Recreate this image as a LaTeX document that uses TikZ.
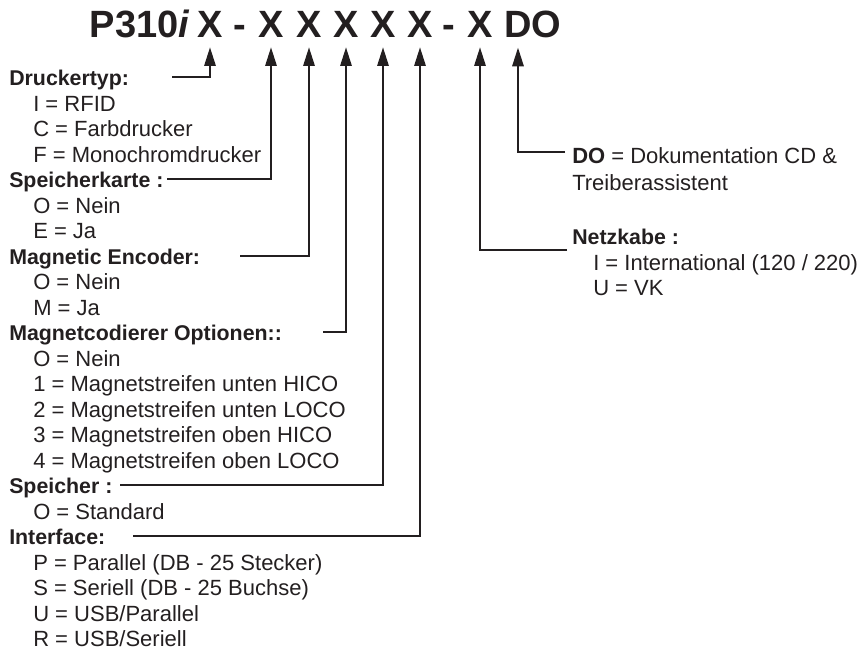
\documentclass[tikz,border=0pt]{standalone}
\usepackage{fontspec}
\setmainfont{Liberation Sans}
\usetikzlibrary{arrows.meta,positioning}
\definecolor{ink}{HTML}{231F20}
\tikzset{
  ttl/.style={font=\fontsize{28.5}{34}\selectfont\bfseries, text=ink, inner xsep=0pt, inner ysep=7.5pt, anchor=base},
  head/.style={font=\fontsize{16}{19}\selectfont\bfseries, text=ink, inner sep=0pt, text height=12.8pt, text depth=0pt, anchor=west},
  item/.style={font=\fontsize{16.5}{19}\selectfont, text=ink, inner sep=0pt, text height=12.8pt, text depth=0pt, anchor=west},
  arr/.style={-{Triangle[length=14pt,width=8.5pt]}, line width=1.5pt, draw=ink},
}

\begin{document}
\begin{tikzpicture}[x=0.75pt,y=-0.75pt]
\useasboundingbox (0,0) rectangle (865,651);

% model code
\node[ttl, anchor=base east] (model) at (190,37) {P310\textit{i}};
\node[ttl] (x1) at (210,37) {X};
\node[ttl] (d1) at (240,37) {-};
\node[ttl] (x2) at (271,37) {X};
\node[ttl] (x3) at (309,37) {X};
\node[ttl] (x4) at (346,37) {X};
\node[ttl] (x5) at (383,37) {X};
\node[ttl] (x6) at (420,37) {X};
\node[ttl] (d2) at (449,37) {-};
\node[ttl] (x7) at (480,37) {X};
\node[ttl, anchor=base west] (do) at (504,37) {DO};

% left column
\node[head] (typ) at (9,77) {Druckertyp:};
\node[item] at (33,102.5) {I = RFID};
\node[item] at (33,128) {C = Farbdrucker};
\node[item] at (33,153.5) {F = Monochromdrucker};
\node[head] (karte) at (9,179) {Speicherkarte :};
\node[item] at (33,204.5) {O = Nein};
\node[item] at (33,230) {E = Ja};
\node[head] (enc) at (9,255.5) {Magnetic Encoder:};
\node[item] at (33,281) {O = Nein};
\node[item] at (33,306.5) {M = Ja};
\node[head] (opt) at (9,332) {Magnetcodierer Optionen::};
\node[item] at (33,357.5) {O = Nein};
\node[item] at (33,383) {1 = Magnetstreifen unten HICO};
\node[item] at (33,408.5) {2 = Magnetstreifen unten LOCO};
\node[item] at (33,434) {3 = Magnetstreifen oben HICO};
\node[item] at (33,459.5) {4 = Magnetstreifen oben LOCO};
\node[head] (mem) at (9,485) {Speicher :};
\node[item] at (33,510.5) {O = Standard};
\node[head] (iface) at (9,536) {Interface:};
\node[item] at (33,561.5) {P = Parallel (DB - 25 Stecker)};
\node[item] at (33,587) {S = Seriell (DB - 25 Buchse)};
\node[item] at (33,612.5) {U = USB/Parallel};
\node[item] at (33,638) {R = USB/Seriell};

% right column
\node[item] (doc) at (572,155) {\textbf{DO} = Dokumentation CD \&};
\node[item] at (572,182) {Treiberassistent};
\node[head] (netz) at (572,236) {Netzkabe :};
\node[item] at (593,262) {I = International (120 / 220)};
\node[item] at (593,287) {U = VK};

% line ends
\coordinate (s1) at (172,77);
\coordinate (s2) at (167,179);
\coordinate (s3) at (240,255.5);
\coordinate (s4) at (323,332);
\coordinate (s5) at (120,485);
\coordinate (s6) at (133,536);
\coordinate (s7) at (567,250);
\coordinate (s8) at (565,152);

\draw[arr] (s1) -| (x1.south);
\draw[arr] (s2) -| (x2.south);
\draw[arr] (s3) -| (x3.south);
\draw[arr] (s4) -| (x4.south);
\draw[arr] (s5) -| (x5.south);
\draw[arr] (s6) -| (x6.south);
\draw[arr] (s7) -| (x7.south);
\draw[arr] (s8) -| ([shift={(14,0)}]do.south west);
\end{tikzpicture}
\end{document}
